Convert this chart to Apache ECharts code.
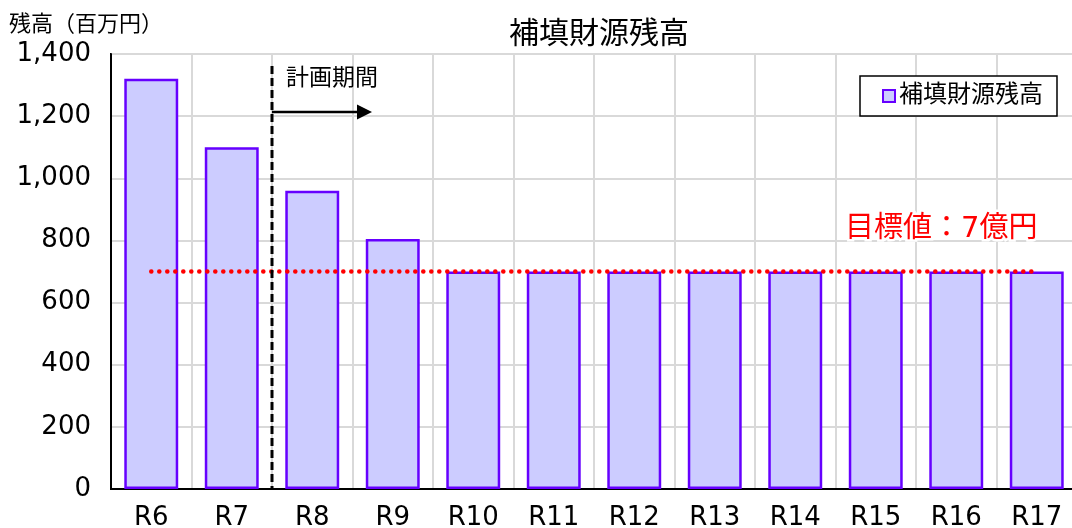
<!DOCTYPE html>
<html>
<head>
<meta charset="utf-8">
<script src="https://cdn.jsdelivr.net/npm/echarts@6/dist/echarts.min.js"></script>
<style>
  html, body { margin: 0; padding: 0; background: #fff; }
  #chart { width: 1072px; height: 528px; }
</style>
</head>
<body>
<div id="chart"></div>
<script>
// 年度（令和）
const years = ['R6', 'R7', 'R8', 'R9', 'R10', 'R11', 'R12', 'R13', 'R14', 'R15', 'R16', 'R17'];
// 補填財源残高（百万円）
const balance = [1320, 1100, 960, 805, 700, 700, 700, 700, 700, 700, 700, 700];
// 目標値（7億円 = 700百万円）
const target = [700, 700, 700, 700, 700, 700, 700, 700, 700, 700, 700, 700];
// 縦軸目盛
const yTicks = { min: 0, max: 1400, interval: 200 };

const FONT = "'DejaVu Sans', 'Noto Sans CJK JP', sans-serif";
const chart = echarts.init(document.getElementById('chart'), null, { renderer: 'canvas' });

chart.setOption({
  animation: false,
  textStyle: { fontFamily: FONT },
  title: {
    text: '補填財源残高',
    left: 594,
    textAlign: 'center',
    top: 15,
    textStyle: { fontFamily: FONT, fontSize: 30, fontWeight: 'normal', color: '#000' }
  },
  legend: {
    data: ['補填財源残高'],
    left: 860,
    top: 76,
    orient: 'horizontal',
    backgroundColor: '#fff',
    borderColor: '#000',
    borderWidth: 1.5,
    borderRadius: 0,
    padding: [8, 14, 8, 22],
    itemWidth: 12,
    itemHeight: 12,
    itemGap: 4,
    icon: 'rect',
    selectedMode: false,
    textStyle: { fontFamily: FONT, fontSize: 24, color: '#000', padding: [0, 0, 0, -1] }
  },
  grid: {
    left: 111,
    right: -5,
    top: 54,
    bottom: 39,
    show: true,
    borderColor: '#000',
    borderWidth: 2,
    containLabel: false,
    outerBoundsMode: 'none'
  },
  xAxis: {
    type: 'category',
    data: years,
    boundaryGap: true,
    axisLine: { show: true, lineStyle: { color: '#000', width: 2 } },
    axisTick: { show: false },
    axisLabel: { color: '#000', fontSize: 26, fontFamily: FONT, margin: 16 },
    splitLine: { show: true, lineStyle: { color: '#d9d9d9', width: 2 } }
  },
  yAxis: {
    type: 'value',
    min: yTicks.min,
    max: yTicks.max,
    interval: yTicks.interval,
    axisLine: { show: true, lineStyle: { color: '#000', width: 2 } },
    axisTick: { show: false },
    axisLabel: {
      color: '#000',
      fontSize: 26,
      fontFamily: FONT,
      margin: 20,
      padding: [5, 0, 0, 0],
      formatter: v => v.toLocaleString('en-US')
    },
    splitLine: { show: true, lineStyle: { color: '#d9d9d9', width: 2 } }
  },
  series: [
    {
      name: '補填財源残高',
      type: 'bar',
      data: balance,
      barWidth: '67%',
      itemStyle: { color: '#ccccff', borderColor: '#6600ff', borderWidth: 2.5 },
      z: 2
    },
    {
      name: '目標値',
      type: 'line',
      data: target,
      symbol: 'none',
      lineStyle: { color: '#ff0000', width: 4.5, type: [0.1, 7.9], cap: 'round' },
      z: 3
    }
  ]
});

// 計画期間の境界線・矢印・注記
function drawAnnotations() {
  const x7 = chart.convertToPixel({ xAxisIndex: 0 }, 'R7');
  const x8 = chart.convertToPixel({ xAxisIndex: 0 }, 'R8');
  const xb = (x7 + x8) / 2;
  const yBase = chart.convertToPixel({ yAxisIndex: 0 }, 0);
  const yTop = 66;
  const yArrow = 112;
  const arrowLen = 100;

  chart.setOption({
    graphic: [
      {
        type: 'line',
        shape: { x1: xb, y1: yTop, x2: xb, y2: yBase },
        style: { stroke: '#000', lineWidth: 3, lineDash: [8, 4] },
        z: 10
      },
      {
        type: 'line',
        shape: { x1: xb, y1: yArrow, x2: xb + arrowLen - 12, y2: yArrow },
        style: { stroke: '#000', lineWidth: 2.5 },
        z: 10
      },
      {
        type: 'polygon',
        shape: { points: [[xb + arrowLen - 15, yArrow - 7.5], [xb + arrowLen, yArrow], [xb + arrowLen - 15, yArrow + 7.5]] },
        style: { fill: '#000' },
        z: 10
      },
      {
        type: 'text',
        x: xb + 14,
        y: 68,
        style: { text: '計画期間', fill: '#000', font: '23px ' + FONT },
        z: 10
      },
      {
        type: 'text',
        x: 9,
        y: 14,
        style: { text: '残高（百万円）', fill: '#000', font: '22px ' + FONT },
        z: 10
      },
      {
        type: 'text',
        x: 845,
        y: 215,
        style: {
          text: '目標値：7億円',
          fill: '#ff0000',
          font: '29px ' + FONT,
          stroke: '#fff',
          lineWidth: 5
        },
        z: 10
      }
    ]
  });
}
drawAnnotations();
</script>
</body>
</html>
